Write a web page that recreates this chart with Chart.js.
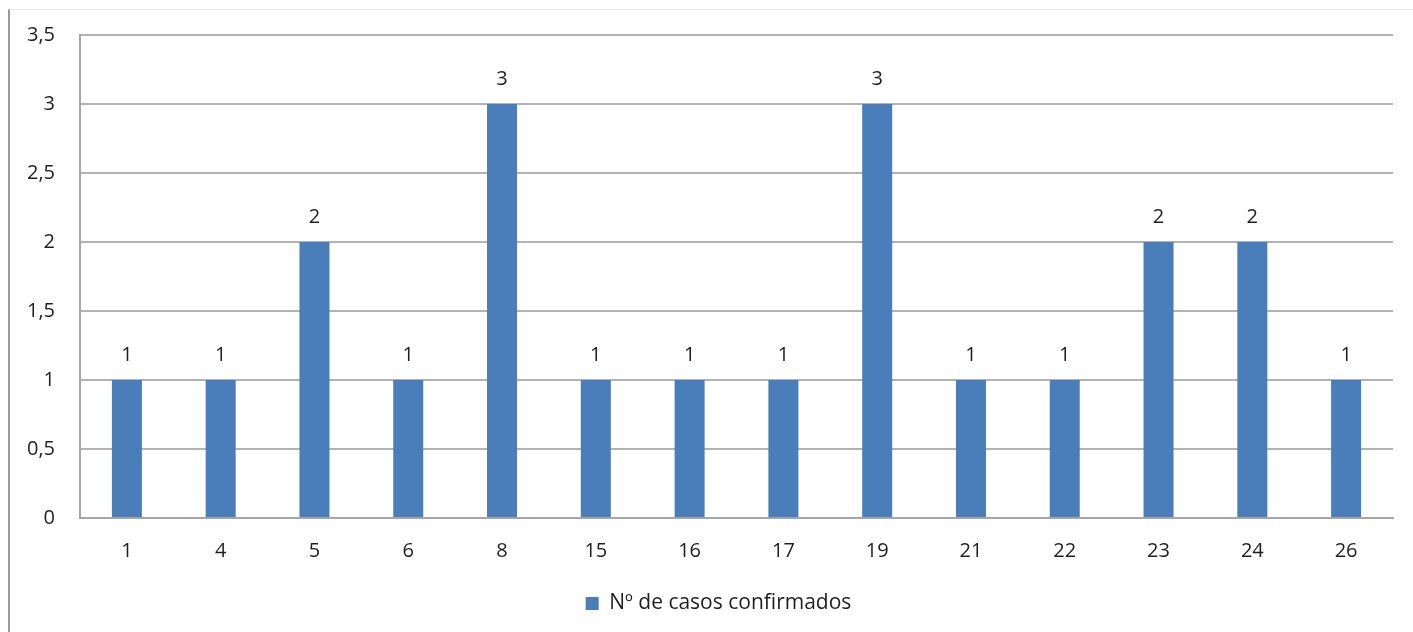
<!DOCTYPE html>
<html>
<head>
<meta charset="utf-8">
<script src="https://cdn.jsdelivr.net/npm/chart.js@4"></script>
<style>
  html, body { margin: 0; padding: 0; background: #fff; }
  #wrap { position: relative; width: 1413px; height: 632px; }
  #frameLeft { position: absolute; left: 8px; top: 9px; width: 2px; height: 623px; background: #9a9a9a; }
  #frameTop { position: absolute; left: 9px; top: 9px; width: 1404px; height: 1px; background: #e6e6e6; }
  canvas { position: absolute; left: 0; top: 0; }
</style>
</head>
<body>
<div id="wrap">
  <canvas id="chart" width="1413" height="632"></canvas>
  <div id="frameLeft"></div>
  <div id="frameTop"></div>
</div>
<script>
var categorias = ["1", "4", "5", "6", "8", "15", "16", "17", "19", "21", "22", "23", "24", "26"];
var casos = [1, 1, 2, 1, 3, 1, 1, 1, 3, 1, 1, 2, 2, 1];
var serieNombre = "Nº de casos confirmados";

var fuente = "'Open Sans', sans-serif";
var colorTexto = "#1f1f1f";

var etiquetasPlugin = {
  id: "etiquetas",
  afterLayout: function (chart) {
    // center the legend under the plot area instead of the whole canvas
    if (chart.legend) {
      chart.legend.left = 44;
    }
  },
  afterDatasetsDraw: function (chart) {
    var ctx = chart.ctx;
    var meta = chart.getDatasetMeta(0);
    ctx.save();
    ctx.font = "20px " + fuente;
    ctx.fillStyle = colorTexto;
    ctx.textAlign = "center";
    ctx.textBaseline = "middle";
    meta.data.forEach(function (bar, i) {
      ctx.fillText(String(casos[i]), bar.x, bar.y - 25);
    });
    ctx.restore();
  },
};

new Chart(document.getElementById("chart"), {
  type: "bar",
  data: {
    labels: categorias,
    datasets: [
      {
        label: serieNombre,
        data: casos,
        backgroundColor: "#4a7ebb",
        borderWidth: 0,
        categoryPercentage: 1,
        barPercentage: 0.32,
      },
    ],
  },
  options: {
    responsive: false,
    animation: false,
    layout: { padding: { top: 35, right: 20, bottom: 8, left: 0 } },
    plugins: {
      tooltip: { enabled: false },
      legend: {
        position: "bottom",
        labels: {
          font: { family: fuente, size: 21 },
          color: colorTexto,
          boxWidth: 13,
          boxHeight: 13,
          padding: 10,
        },
      },
    },
    scales: {
      x: {
        grid: { display: false, drawTicks: false },
        border: { color: "#a6a6a6", width: 2 },
        ticks: { font: { family: fuente, size: 20 }, color: colorTexto, padding: 21 },
        afterFit: function (scale) { scale.height = 65; },
      },
      y: {
        min: 0,
        max: 3.5,
        ticks: {
          stepSize: 0.5,
          font: { family: fuente, size: 20, lineHeight: 1 },
          color: colorTexto,
          padding: 25,
          callback: function (v) { return String(v).replace(".", ","); },
        },
        grid: { color: "#b3b3b3", lineWidth: 2, drawTicks: false },
        border: { color: "#a6a6a6", width: 2 },
        afterFit: function (scale) { scale.width = 80; },
      },
    },
  },
  plugins: [etiquetasPlugin],
});
</script>
</body>
</html>
